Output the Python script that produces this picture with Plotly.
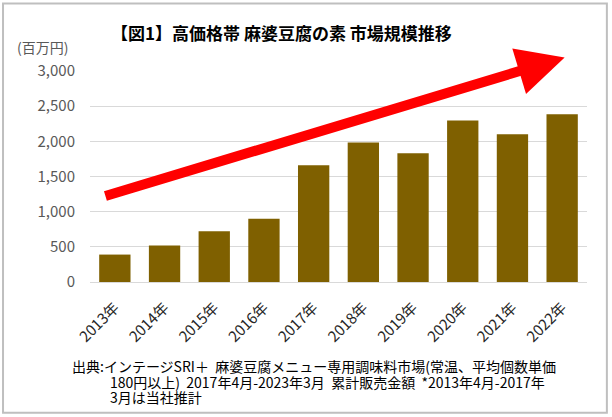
import plotly.graph_objects as go

years = ["2013年", "2014年", "2015年", "2016年", "2017年", "2018年", "2019年", "2020年", "2021年", "2022年"]
values = [390, 520, 720, 900, 1660, 1985, 1830, 2295, 2100, 2385]
y_ticks = [0, 500, 1000, 1500, 2000, 2500, 3000]
y_ticklabels = ["0", "500", "1,000", "1,500", "2,000", "2,500", "3,000"]

title = "【図1】高価格帯 麻婆豆腐の素 市場規模推移"
unit = "(百万円)"
note_lines = [
    "出典:インテージSRI＋  麻婆豆腐メニュー専用調味料市場(常温、平均個数単価",
    "180円以上)  2017年4月-2023年3月  累計販売金額  *2013年4月-2017年",
    "3月は当社推計",
]

FONT = "Noto Sans CJK JP"
GREY = "#595959"

fig = go.Figure()
fig.add_trace(go.Bar(x=list(range(len(years))), y=values, marker=dict(color="#7F6000", line=dict(width=0)),
                     hoverinfo="skip"))

fig.update_layout(
    width=612, height=417,
    margin=dict(l=90, r=25, t=71, b=135),
    paper_bgcolor="white", plot_bgcolor="white",
    bargap=0.37,
    showlegend=False,
    font=dict(family=FONT, color=GREY, size=14),
    xaxis=dict(range=[-0.5, 9.5], tickmode="array", tickvals=list(range(len(years))), ticktext=years,
               tickangle=-45, showgrid=False, showline=True, linecolor="#D9D9D9", linewidth=1,
               ticks="", ticklabelstandoff=10, tickfont=dict(size=15, color="#262626", family=FONT)),
    yaxis=dict(range=[0, 3000], tickmode="array", tickvals=y_ticks, ticktext=y_ticklabels,
               showgrid=True, gridcolor="#D9D9D9", gridwidth=1, zeroline=False, showline=False,
               ticks="", ticklabelstandoff=14, tickfont=dict(size=15, color=GREY, family=FONT)),
)

fig.add_annotation(text=f"<b>{title}</b>", xref="paper", yref="paper", x=0.385, y=1.0, yshift=39,
                   xanchor="center", yanchor="middle", showarrow=False,
                   font=dict(size=17, color="#000000", family=FONT))
fig.add_annotation(text=unit, xref="paper", yref="paper", x=0, xshift=-20, y=1.0, yshift=24,
                   xanchor="right", yanchor="middle", showarrow=False,
                   font=dict(size=14, color=GREY, family=FONT))
for i, (line, xs) in enumerate(zip(note_lines, [-20, 18, 18])):
    fig.add_annotation(text=line, xref="paper", yref="paper", x=0, xshift=xs, y=0, yshift=-84 - 15.5 * i,
                       xanchor="left", yanchor="middle", align="left", showarrow=False,
                       font=dict(size=14, color="#000000", family=FONT))

# trend arrow
fig.add_annotation(x=9.05, y=3193, ax=-0.22, ay=1216, xref="x", yref="y", axref="x", ayref="y",
                   text="", showarrow=True, arrowhead=2, arrowsize=0.95, arrowwidth=10, arrowcolor="#FF0000")

# frame
fig.add_shape(type="rect", xref="paper", yref="paper", x0=-0.175, x1=1.04, y0=-0.62, y1=1.32,
              line=dict(color="#BFBFBF", width=2), fillcolor="rgba(0,0,0,0)", layer="below")

fig.write_html("out.html", config={"displayModeBar": False},
               post_script="document.body.style.margin='0';")
